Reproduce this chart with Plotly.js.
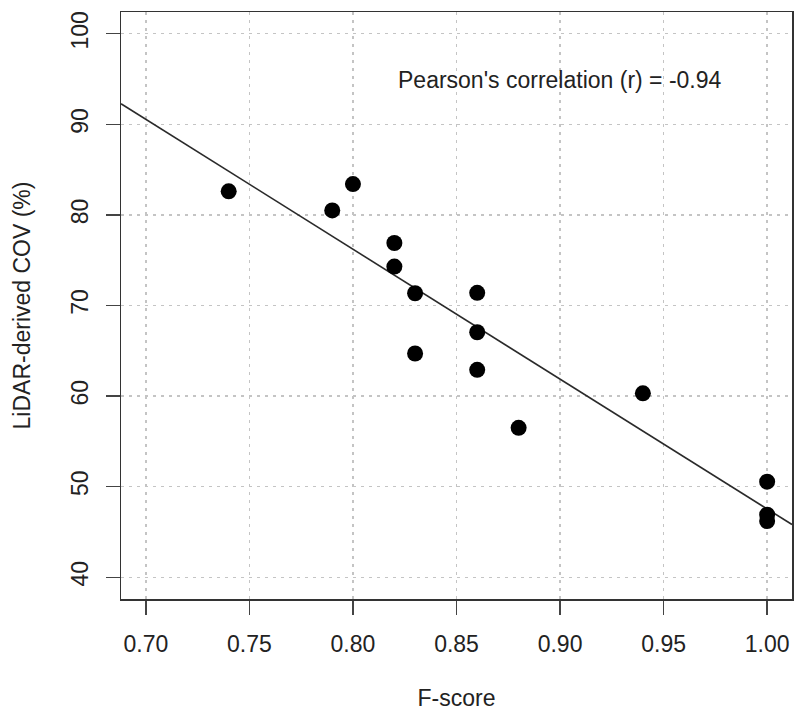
<!DOCTYPE html>
<html>
<head>
<meta charset="utf-8">
<script src="https://cdn.plot.ly/plotly-3.0.1.min.js"></script>
<style>html,body{margin:0;padding:0;background:#fff;}#chart{width:796px;height:711px;}</style>
</head>
<body>
<div id="chart"></div>
<script>
// F-score (x) vs LiDAR-derived COV % (y)
const fScore = [0.74, 0.79, 0.80, 0.82, 0.82, 0.83, 0.83, 0.86, 0.86, 0.86, 0.88, 0.94, 1.00, 1.00, 1.00];
const lidarCov = [82.6, 80.5, 83.4, 76.9, 74.3, 71.35, 64.7, 71.4, 67.05, 62.9, 56.5, 60.3, 50.55, 46.9, 46.2];
const xTicks = [0.70, 0.75, 0.80, 0.85, 0.90, 0.95, 1.00];
const xTickText = ["0.70", "0.75", "0.80", "0.85", "0.90", "0.95", "1.00"];
const yTicks = [40, 50, 60, 70, 80, 90, 100];
const xLim = [0.70, 1.00];
const yLim = [40, 100];

// R-style 4% axis extension
function ext(l) { const d = (l[1] - l[0]) * 0.04; return [l[0] - d, l[1] + d]; }
const xRange = ext(xLim), yRange = ext(yLim);

// least squares fit and Pearson r
const n = fScore.length;
const mx = fScore.reduce((a, b) => a + b, 0) / n;
const my = lidarCov.reduce((a, b) => a + b, 0) / n;
let sxx = 0, syy = 0, sxy = 0;
for (let i = 0; i < n; i++) {
  const dx = fScore[i] - mx, dy = lidarCov[i] - my;
  sxx += dx * dx; syy += dy * dy; sxy += dx * dy;
}
const slope = sxy / sxx, intercept = my - slope * mx;
const r = sxy / Math.sqrt(sxx * syy);
const lineX = [xRange[0], xRange[1]];
const lineY = lineX.map(x => intercept + slope * x);

const font = {family: '"Liberation Sans", Arial, Helvetica, sans-serif', size: 23, color: '#222'};

const traces = [
  {x: lineX, y: lineY, mode: 'lines', line: {color: '#2a2a2a', width: 1.6}, hoverinfo: 'skip', showlegend: false},
  {x: fScore, y: lidarCov, mode: 'markers', marker: {color: '#000', size: 16, line: {width: 0}}, showlegend: false}
];

const axisCommon = {
  showline: true, mirror: true, linecolor: '#333', linewidth: 1.5,
  ticks: 'outside', ticklen: 14, tickwidth: 1.5, tickcolor: '#444',
  showgrid: true, gridcolor: '#c4c4c4', gridwidth: 1.5, griddash: '3px,5px',
  zeroline: false, tickfont: font, automargin: false
};

const layout = {
  width: 796, height: 711,
  margin: {l: 121, r: 4, t: 12, b: 112},
  paper_bgcolor: '#fff', plot_bgcolor: '#fff',
  font: font,
  showlegend: false,
  xaxis: Object.assign({}, axisCommon, {
    range: xRange, tickvals: xTicks, ticktext: xTickText,
    ticklabelstandoff: 10,
    title: {text: 'F-score', font: font, standoff: 35}
  }),
  yaxis: Object.assign({}, axisCommon, {
    range: yRange, tickvals: yTicks, tickangle: -90,
    ticklabelstandoff: 8,
    title: {text: 'LiDAR-derived COV (%)', font: font, standoff: 30}
  }),
  annotations: [{
    x: 0.90, y: 94.9, xref: 'x', yref: 'y',
    text: "Pearson's correlation (r) = " + r.toFixed(2),
    showarrow: false, font: font, xanchor: 'center', yanchor: 'middle'
  }]
};

Plotly.newPlot('chart', traces, layout, {displayModeBar: false, staticPlot: true});
</script>
</body>
</html>
